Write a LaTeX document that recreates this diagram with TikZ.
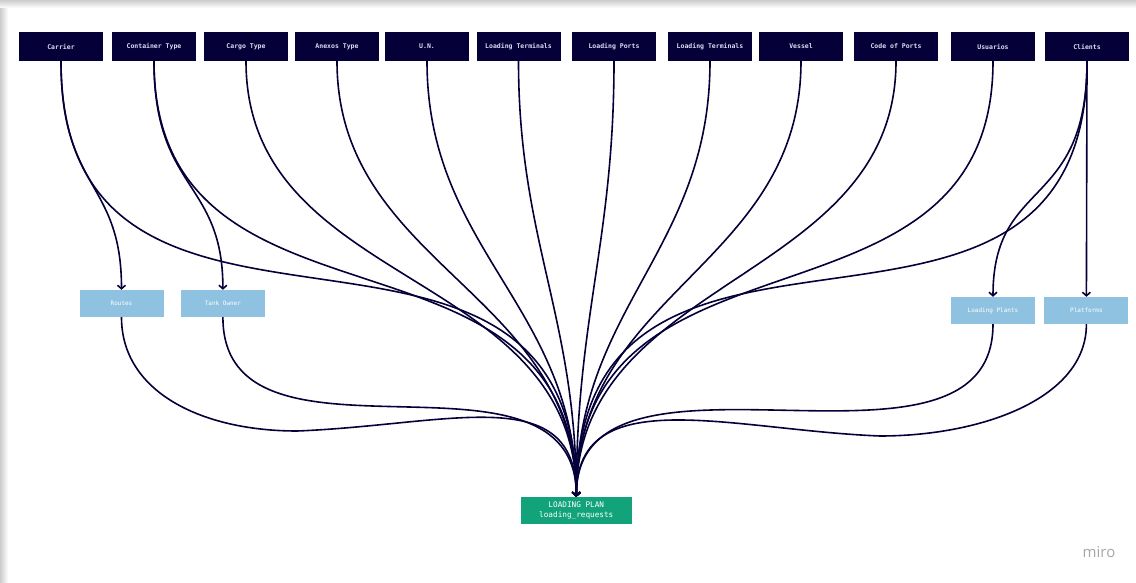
\documentclass[tikz,border=0pt]{standalone}
\usepackage{fontspec}
\setmonofont{DejaVu Sans Mono}
\newfontfamily\logofont{Open Sans}
\usepackage{tikz}
\usetikzlibrary{arrows.meta,positioning}
\definecolor{miroink}{RGB}{5,0,56}
\definecolor{mirolabel}{RGB}{222,218,242}
\definecolor{miroblue}{RGB}{143,194,224}
\definecolor{mirogreen}{RGB}{19,163,123}

\begin{document}
\begin{tikzpicture}[
      x=1pt, y=-1pt,
      >={Straight Barb[length=3.5pt,width=8pt]},
      link/.style={->, line width=1.6pt, miroink},
      srcbox/.style={fill=miroink,text=mirolabel,minimum width=84pt,minimum height=29pt,inner sep=1pt,
                     font=\ttfamily\bfseries\fontsize{6.5}{7}\selectfont},
      subbox/.style={fill=miroblue,text=white,minimum width=84pt,minimum height=27pt,inner sep=1pt,
                     font=\ttfamily\fontsize{6}{7}\selectfont},
      planbox/.style={fill=mirogreen,text=white,align=center,minimum width=111pt,minimum height=27pt,inner sep=1pt,
                      font=\ttfamily\fontsize{7.7}{10}\selectfont}
    ]
    \useasboundingbox (0,0) rectangle (1136,583);

    % Board shadow
    \fill[left color=gray!40, right color=white] (0,0) rectangle (8,583);
    \fill[top color=gray!40, bottom color=white] (0,0) rectangle (1136,8);

    % Source tables (top row)
    \node (carrier)   [srcbox] at (61,46.5)    {Carrier};
    \node (container) [srcbox] at (154,46.5)   {Container Type};
    \node (cargo)     [srcbox] at (246,46.5)   {Cargo Type};
    \node (anexos)    [srcbox] at (337,46.5)   {Anexos Type};
    \node (un)        [srcbox] at (427,46.5)   {U.N.};
    \node (lterm_a)   [srcbox] at (518.5,46.5) {Loading Terminals};
    \node (lports)    [srcbox] at (614,46.5)   {Loading Ports};
    \node (lterm_b)   [srcbox] at (710,46.5)   {Loading Terminals};
    \node (vessel)    [srcbox] at (801,46.5)   {Vessel};
    \node (codeports) [srcbox] at (896,46.5)   {Code of Ports};
    \node (usuarios)  [srcbox] at (993,46.5)   {Usuarios};
    \node (clients)   [srcbox] at (1087,46.5)  {Clients};

    % Sub tables
    \node (routes)    [subbox] at (121.5,303.5)       {Routes};
    \node (tank)      [subbox, right=17pt of routes]  {Tank Owner};
    \node (lplants)   [subbox] at (993,310.5)         {Loading Plants};
    \node (platforms) [subbox, right=9pt of lplants]  {Platforms};

    % Target
    \node (plan) [planbox] at (576.3,510.5) {LOADING PLAN\\loading\_requests};
    \node (logo) [text=gray!70,font=\logofont\fontsize{15}{15}\selectfont] at (1099,552) {miro};

    % Arrows into sub tables
    \draw[link] (carrier.south)   .. controls +(0,130) and +(0,-110) .. (routes.north);
    \draw[link] (container.south) .. controls +(0,130) and +(0,-110) .. (tank.north);
    \draw[link] (clients.south)   .. controls +(0,150) and +(0,-120) .. (lplants.north);
    \draw[link] (clients.south)   -- (platforms.north);

    % Arrows into loading plan
    \draw[link] (carrier.south)   .. controls +(0,359) and +(0,-359) .. (plan.north);
    \draw[link] (container.south) .. controls +(0,295) and +(0,-295) .. (plan.north);
    \draw[link] (cargo.south)     .. controls +(0,230) and +(0,-230) .. (plan.north);
    \draw[link] (anexos.south)    .. controls +(0,205) and +(0,-205) .. (plan.north);
    \draw[link] (un.south)        .. controls +(0,190) and +(0,-190) .. (plan.north);
    \draw[link] (lterm_a.south)   .. controls +(0,180) and +(0,-180) .. (plan.north);
    \draw[link] (lports.south)    .. controls +(0,180) and +(0,-180) .. (plan.north);
    \draw[link] (lterm_b.south)   .. controls +(0,190) and +(0,-190) .. (plan.north);
    \draw[link] (vessel.south)    .. controls +(0,205) and +(0,-205) .. (plan.north);
    \draw[link] (codeports.south) .. controls +(0,222) and +(0,-222) .. (plan.north);
    \draw[link] (usuarios.south)  .. controls +(0,290) and +(0,-290) .. (plan.north);
    \draw[link] (clients.south)   .. controls +(0,362) and +(0,-362) .. (plan.north);

    % Sub tables into loading plan
    \coordinate (routes_dip)    at (297,431);
    \coordinate (platforms_dip) at (880,436);
    \draw[link] (routes.south) .. controls +(0,75) and +(-95,0) .. (routes_dip)
                               .. controls +(153,-6) and +(0,-117) .. (plan.north);
    \draw[link] (tank.south)    .. controls +(0,170) and +(0,-170) .. (plan.north);
    \draw[link] (lplants.south) .. controls +(0,180) and +(0,-180) .. (plan.north);
    \draw[link] (platforms.south) .. controls +(0,75) and +(100,0) .. (platforms_dip)
                                  .. controls +(-150,-6) and +(0,-117) .. (plan.north);
  \end{tikzpicture}
\end{document}
